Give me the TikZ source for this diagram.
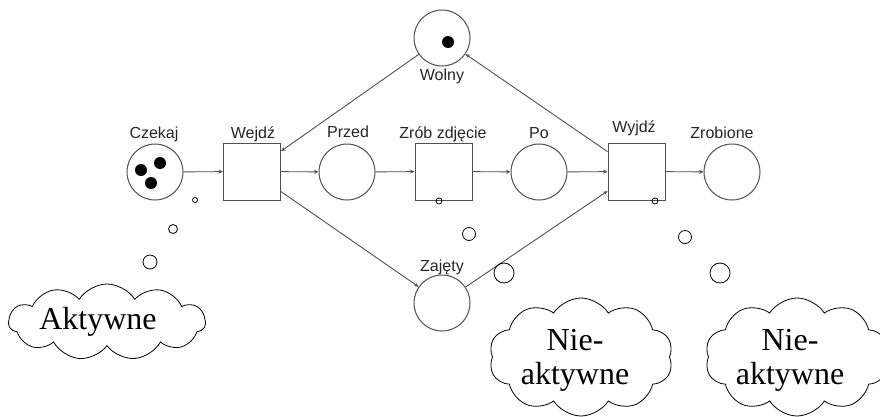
\documentclass[tikz,border=0pt]{standalone}
\usepackage{fontspec}
\setmainfont{Liberation Serif}
\setsansfont{Liberation Sans}
\usetikzlibrary{arrows.meta,shapes.symbols}
\definecolor{linegray}{HTML}{505050}
\definecolor{textgray}{HTML}{262626}
\tikzset{
  place/.style={circle,draw=linegray,line width=1pt,minimum size=56pt,inner sep=0pt},
  trans/.style={rectangle,draw=linegray,line width=1pt,minimum width=57pt,minimum height=57pt,inner sep=0pt},
  lbl/.style={font=\sffamily\fontsize{16}{18}\selectfont,text=textgray,anchor=base,inner sep=0pt},
  arc/.style={draw=linegray,line width=0.9pt,-{Stealth[length=4.5pt,width=4pt]}},
  token/.style={circle,fill=black,minimum size=12pt,inner sep=0pt},
  bubble/.style={circle,draw=black,line width=0.8pt,inner sep=0pt},
  thought/.style={cloud,cloud puffs=10,cloud puff arc=115,draw=black,line width=0.8pt,inner sep=0pt},
  cloudtext/.style={font=\fontsize{32}{34}\selectfont,align=center,inner sep=0pt}
}
\begin{document}
\begin{tikzpicture}[x=1pt,y=-1pt]
\clip (0,0) rectangle (880,416);
\fill[white] (0,0) rectangle (880,416);
% places
\node[place] (czekaj) at (155,172) {};
\node[place] (wolny) at (442,38) {};
\node[place] (przed) at (347,172) {};
\node[place] (po) at (539,172) {};
\node[place] (zrobione) at (732,172) {};
\node[place] (zajety) at (442,303) {};
% transitions
\node[trans] (wejdz) at (252,171.5) {};
\node[trans] (zrob) at (443.5,171.5) {};
\node[trans] (wyjdz) at (636.5,171.5) {};
% labels
\node[lbl] (lczekaj) at (154,138) {Czekaj};
\node[lbl] (lwejdz) at (253,138) {Wejdź};
\node[lbl] (lprzed) at (348,137) {Przed};
\node[lbl] (lzrob) at (443,138) {Zrób zdjęcie};
\node[lbl] (lpo) at (539,138) {Po};
\node[lbl] (lwyjdz) at (634,132) {Wyjdź};
\node[lbl] (lzrobione) at (722,138) {Zrobione};
\node[lbl] (lwolny) at (442,80) {Wolny};
\node[lbl] (lzajety) at (442,271) {Zajęty};
% tokens
\node[token] (t1) at (141,170) {};
\node[token] (t2) at (160,163) {};
\node[token] (t3) at (151,183) {};
\node[token] (t4) at (448,42) {};
% arcs
\draw[arc] (czekaj) -- (wejdz);
\draw[arc] (wejdz) -- (przed);
\draw[arc] (przed) -- (zrob);
\draw[arc] (zrob) -- (po);
\draw[arc] (po) -- (wyjdz);
\draw[arc] (wyjdz) -- (zrobione);
\draw[arc] (wolny) -- (wejdz);
\draw[arc] (wyjdz) -- (wolny);
\draw[arc] (wejdz) -- (zajety);
\draw[arc] (zajety) -- (wyjdz);
% thought bubbles
\node[bubble,minimum size=5pt] (b1) at (195,200) {};
\node[bubble,minimum size=9pt] (b2) at (173,229) {};
\node[bubble,minimum size=14pt] (b3) at (150,262) {};
\node[bubble,minimum size=6pt] (b4) at (439,201) {};
\node[bubble,minimum size=13pt] (b5) at (469,234) {};
\node[bubble,minimum size=20pt] (b6) at (504,273) {};
\node[bubble,minimum size=6pt] (b7) at (655,201) {};
\node[bubble,minimum size=13pt] (b8) at (685,237) {};
\node[bubble,minimum size=20pt] (b9) at (720,273) {};
% clouds
\node[thought,cloud puffs=11,minimum width=197pt,minimum height=76pt] (c1) at (107,322) {};
\node[cloudtext] (c1t) at (98,322) {Aktywne};
\node[thought,minimum width=184pt,minimum height=118pt] (c2) at (581,357) {};
\node[cloudtext] (c2t) at (575,360) {Nie-\\aktywne};
\node[thought,minimum width=184pt,minimum height=118pt] (c3) at (797,357) {};
\node[cloudtext] (c3t) at (790,360) {Nie-\\aktywne};
\end{tikzpicture}
\end{document}
